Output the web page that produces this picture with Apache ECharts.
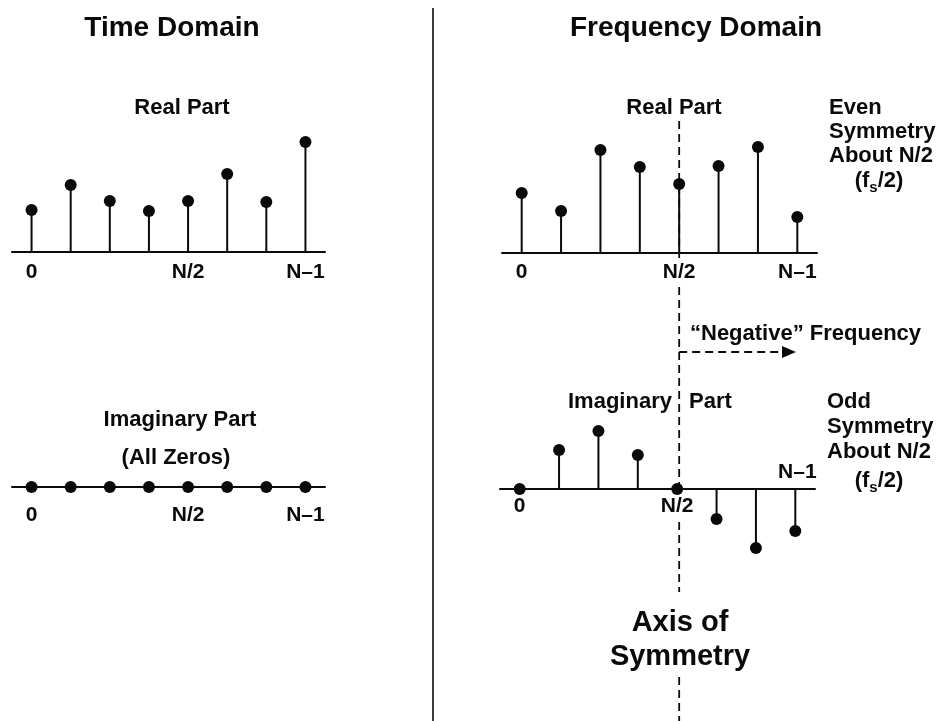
<!DOCTYPE html>
<html>
<head>
<meta charset="utf-8">
<script src="https://cdn.jsdelivr.net/npm/echarts@6/dist/echarts.min.js"></script>
<style>
  html, body { margin: 0; padding: 0; background: #fff; }
  #chart { width: 950px; height: 721px; }
</style>
</head>
<body>
<div id="chart"></div>
<script>
// ---- data ----
const categories = ['0', '1', '2', '3', '4', '5', '6', '7'];
const timeTickLabels = ['0', '', '', '', 'N/2', '', '', 'N–1'];
const freqRealTickLabels = ['0', '', '', '', 'N/2', '', '', 'N–1'];
const freqImagTickLabels = ['0', '', '', '', 'N/2', '', '', ''];
const freqImagAboveLabel = 'N–1';
const timeReal = [42, 67, 51, 41, 51, 78, 50, 110];
const timeImag = [0, 0, 0, 0, 0, 0, 0, 0];
const freqReal = [60, 42, 103, 86, 69, 87, 106, 36];
const freqImag = [0, 39, 58, 34, 0, -30, -59, -42];
const symmetryIndex = 4;

const FONT = '"Liberation Sans", Arial, Helvetica, sans-serif';
const INK = '#0a0a0a';

const grids = [
  { left: 12, width: 313, top: 132, height: 120 },
  { left: 12, width: 313, top: 477, height: 20 },
  { left: 502, width: 315, top: 133, height: 120 },
  { left: 500, width: 315, top: 419, height: 140 }
];
const yRanges = [[0, 120], [-10, 10], [0, 120], [-70, 70]];

const chart = echarts.init(document.getElementById('chart'), null, { renderer: 'canvas' });

function xAxisFor(i, labels, margin) {
  const r = yRanges[i];
  // place the axis (line + labels) at y = 0
  const zeroOffset = -grids[i].height * (0 - r[0]) / (r[1] - r[0]);
  return {
    type: 'category', gridIndex: i, data: categories, boundaryGap: true,
    position: 'bottom', offset: zeroOffset,
    axisLine: { onZero: false, lineStyle: { color: INK, width: 2 } },
    axisTick: { show: false }, splitLine: { show: false },
    axisLabel: {
      interval: 0, margin: margin, color: INK, fontSize: 21, fontWeight: 'bold', fontFamily: FONT,
      formatter: (v, idx) => labels[idx]
    }
  };
}
function yAxisFor(i) {
  return { type: 'value', gridIndex: i, min: yRanges[i][0], max: yRanges[i][1], show: false, splitLine: { show: false } };
}
function stems(i, data) {
  return {
    type: 'bar', xAxisIndex: i, yAxisIndex: i, data: data, barWidth: 2,
    itemStyle: { color: INK, opacity: 1 }, silent: true, animation: false, z: 2
  };
}
function dots(i, data) {
  return {
    type: 'scatter', xAxisIndex: i, yAxisIndex: i, data: data, symbol: 'circle', symbolSize: 12,
    itemStyle: { color: INK, opacity: 1 }, silent: true, animation: false, z: 3
  };
}

chart.setOption({
  backgroundColor: '#fff',
  animation: false,
  grid: grids,
  xAxis: [
    xAxisFor(0, timeTickLabels, 10),
    xAxisFor(1, timeTickLabels, 18),
    xAxisFor(2, freqRealTickLabels, 9),
    xAxisFor(3, freqImagTickLabels, 7)
  ],
  yAxis: [yAxisFor(0), yAxisFor(1), yAxisFor(2), yAxisFor(3)],
  series: [
    stems(0, timeReal), dots(0, timeReal),
    stems(1, timeImag), dots(1, timeImag),
    stems(2, freqReal), dots(2, freqReal),
    stems(3, freqImag), dots(3, freqImag)
  ]
});

// ---- annotations ----
function txt(text, x, y, size, align, extra) {
  const st = Object.assign({
    text: text, x: x, y: y,
    fontSize: size, fontWeight: 'bold', fontFamily: FONT, fill: INK,
    align: align || 'center', textAlign: align || 'center',
    verticalAlign: 'middle', textVerticalAlign: 'middle'
  }, extra || {});
  return { type: 'text', style: st, silent: true, z: 10 };
}
function dashV(x, y1, y2) {
  return { type: 'line', shape: { x1: x, y1: y1, x2: x, y2: y2 },
    style: { stroke: INK, lineWidth: 1.8, lineDash: [8, 5] }, silent: true, z: 5 };
}
const fsRich = {
  n: { fontSize: 22, fontWeight: 'bold', fontFamily: FONT, fill: INK, lineHeight: 28, verticalAlign: 'middle' },
  s: { fontSize: 15, fontWeight: 'bold', fontFamily: FONT, fill: INK, lineHeight: 28, verticalAlign: 'bottom' }
};

const symX = chart.convertToPixel({ xAxisIndex: 2 }, symmetryIndex);
const imagZeroY = chart.convertToPixel({ yAxisIndex: 3 }, 0);
const lastX = chart.convertToPixel({ xAxisIndex: 3 }, categories.length - 1);

const graphics = [
  // divider
  { type: 'line', shape: { x1: 433, y1: 8, x2: 433, y2: 721 },
    style: { stroke: INK, lineWidth: 1.6 }, silent: true },
  // titles
  txt('Time Domain', 172, 28, 28),
  txt('Frequency Domain', 696, 28, 28),
  txt('Real Part', 182, 108, 22),
  txt('Imaginary Part', 180, 420, 22),
  txt('(All Zeros)', 176, 458, 22),
  txt('Real Part', 674, 108, 22),
  txt('Imaginary', 568, 402, 22, 'left'),
  txt('Part', 689, 402, 22, 'left'),
  txt('“Negative” Frequency', 690, 334, 22, 'left'),
  txt('Even', 829, 108, 22, 'left'),
  txt('Symmetry', 829, 132, 22, 'left'),
  txt('About N/2', 829, 156, 22, 'left'),
  txt('{n|(f}{s|s}{n|/2)}', 879, 181, 22, 'center', { rich: fsRich }),
  txt('Odd', 827, 402, 22, 'left'),
  txt('Symmetry', 827, 427, 22, 'left'),
  txt('About N/2', 827, 452, 22, 'left'),
  txt('{n|(f}{s|s}{n|/2)}', 879, 481, 22, 'center', { rich: fsRich }),
  txt('Axis of', 680, 623, 29),
  txt('Symmetry', 680, 657, 29),
  txt(freqImagAboveLabel, lastX + 2, imagZeroY - 17, 21),
  // axis of symmetry (dashed)
  dashV(symX, 121, 258),
  dashV(symX, 287, imagZeroY),
  dashV(symX, 522, 592),
  dashV(symX, 677, 721),
  // negative frequency arrow
  { type: 'line', shape: { x1: symX, y1: 352, x2: 783, y2: 352 },
    style: { stroke: INK, lineWidth: 1.8, lineDash: [8, 5] }, silent: true },
  { type: 'polygon', shape: { points: [[782, 346], [796, 352], [782, 358]] },
    style: { fill: INK }, silent: true }
];
chart.setOption({ graphic: graphics });
</script>
</body>
</html>
